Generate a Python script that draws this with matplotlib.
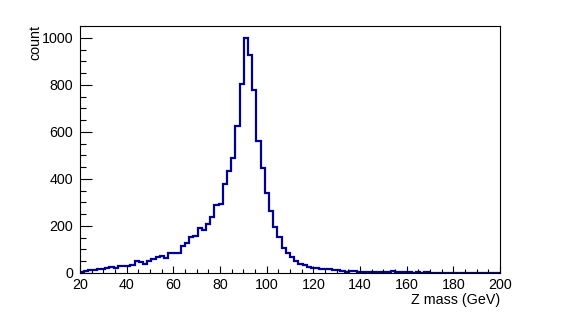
import numpy as np
import matplotlib
matplotlib.use("Agg")
import matplotlib.pyplot as plt
from matplotlib.ticker import MultipleLocator

# 100 bins from 20 to 200 GeV
x_min, x_max, n_bins = 20, 200, 100
counts = [
    3, 9, 12, 14, 16, 17, 22, 24, 22, 28,
    30, 30, 32, 50, 45, 38, 52, 58, 66, 72,
    64, 86, 83, 84, 114, 126, 151, 157, 193, 183,
    209, 240, 288, 294, 380, 434, 489, 627, 804, 1000,
    928, 778, 561, 448, 340, 264, 194, 154, 107, 86,
    69, 51, 38, 36, 24, 23, 21, 19, 16, 15,
    13, 12, 7, 6, 7, 9, 5, 4, 5, 4,
    3, 4, 3, 4, 10, 6, 5, 3, 3, 2,
    3, 2, 3, 2, 2, 1, 2, 1, 2, 0,
    1, 2, 1, 1, 2, 1, 1, 0, 1, 1,
]
x_title = "Z mass (GeV)"
y_title = "count"

plt.rcParams['font.family'] = ['Liberation Sans', 'DejaVu Sans']

W, H = 567, 319
fig = plt.figure(figsize=(W / 100, H / 100), dpi=100)
L, R, T, B = 80, 500, 26, 273
ax = fig.add_axes([L / W, (H - B) / H, (R - L) / W, (B - T) / H])

edges = np.linspace(x_min, x_max, n_bins + 1)
ax.stairs(counts, edges, color='#000099', lw=1.6, baseline=0)

ax.set_xlim(x_min, x_max)
ax.set_ylim(0, 1050)

ax.xaxis.set_major_locator(MultipleLocator(20))
ax.xaxis.set_minor_locator(MultipleLocator(5))
ax.yaxis.set_major_locator(MultipleLocator(200))
ax.yaxis.set_minor_locator(MultipleLocator(50))

fs = 10.3
ax.tick_params(axis='x', which='major', direction='in', length=5.3, width=0.8, labelsize=fs, pad=3.5)
ax.tick_params(axis='x', which='minor', direction='in', length=2.7, width=0.8)
ax.tick_params(axis='y', which='major', direction='in', length=8.6, width=0.8, labelsize=fs, pad=5)
ax.tick_params(axis='y', which='minor', direction='in', length=4.3, width=0.8)
for s in ax.spines.values():
    s.set_linewidth(0.8)

fig.text(R / W, 1 - 300 / H, x_title, ha='right', va='center', fontsize=fs)
fig.text(35 / W, 1 - 25 / H, y_title, ha='center', va='top', rotation=90, fontsize=fs)

fig.savefig("out.png", dpi=100)
